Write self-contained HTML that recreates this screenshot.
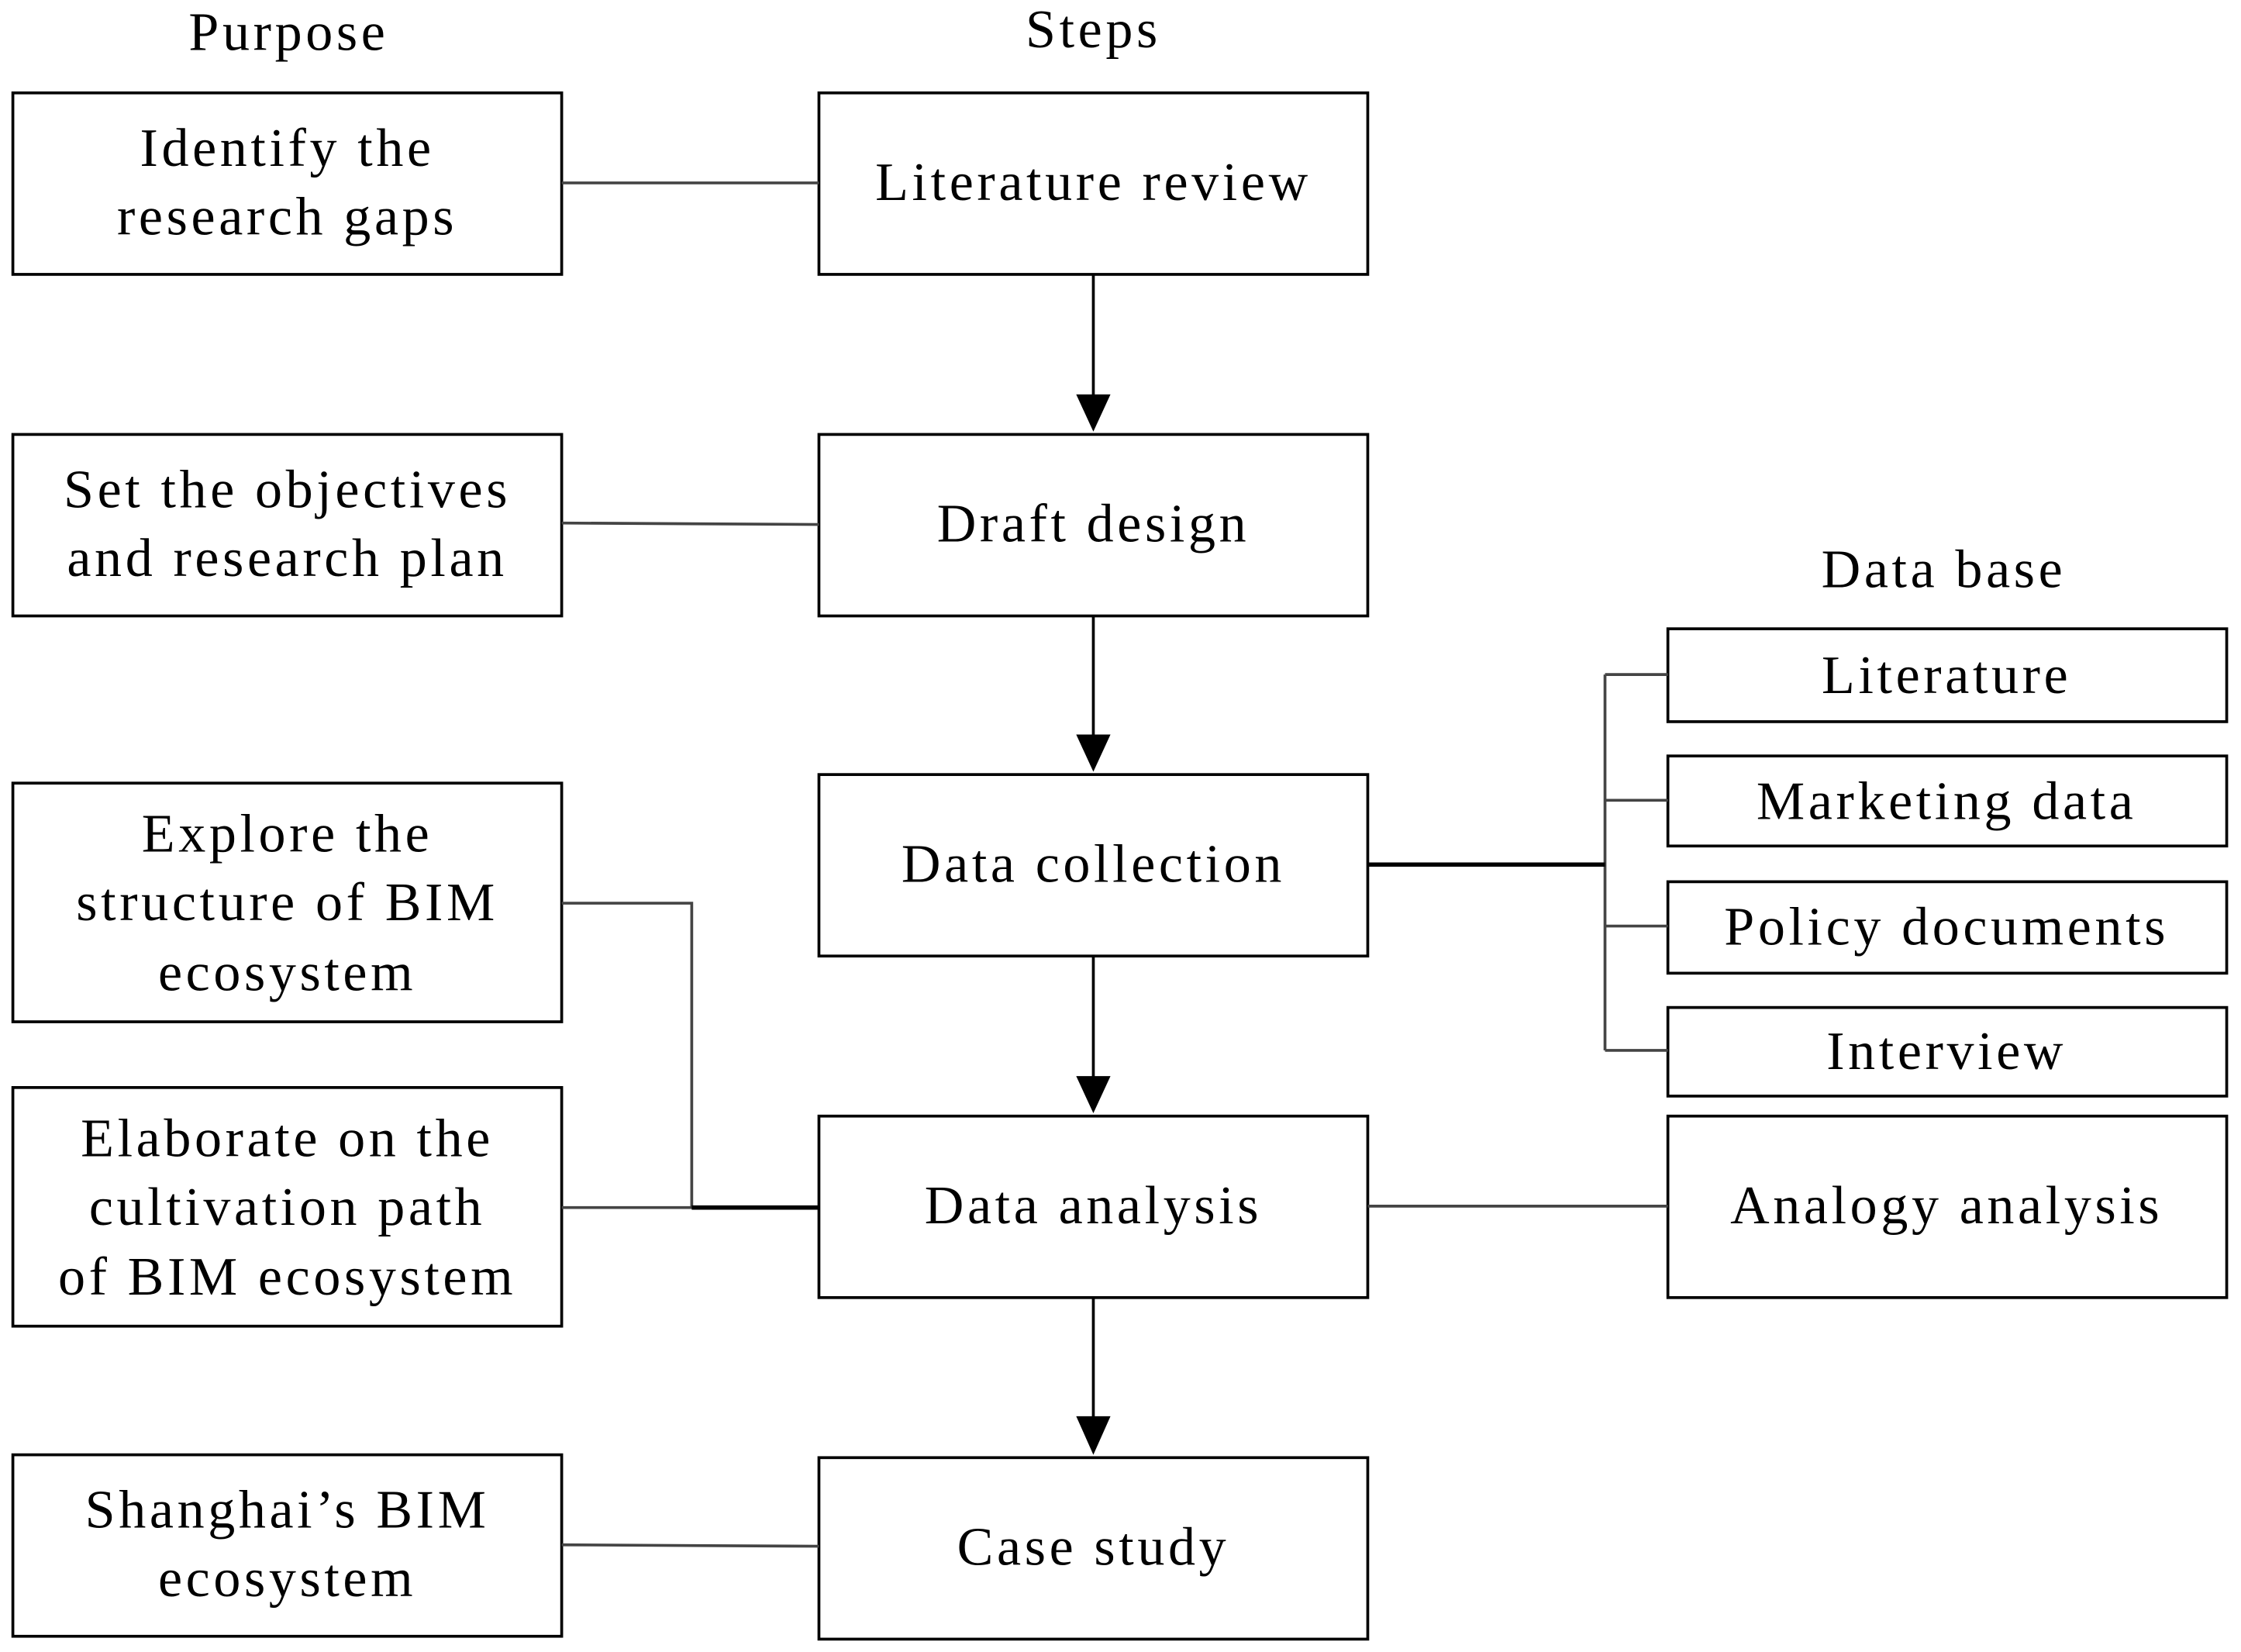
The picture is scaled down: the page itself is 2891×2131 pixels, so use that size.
<!DOCTYPE html>
<html><head><meta charset="utf-8"><style>html,body{margin:0;padding:0;background:#fff}svg{display:block}</style></head>
<body>
<svg width="2891" height="2131" viewBox="0 0 1568 1156" preserveAspectRatio="none" xmlns="http://www.w3.org/2000/svg" font-family="Liberation Serif, serif" font-size="38" letter-spacing="2.5" fill="#000">
<g fill="none" stroke="#000" stroke-width="2">
<rect x="9" y="65" width="384" height="127"/>
<rect x="9" y="304" width="384" height="127"/>
<rect x="9" y="548" width="384" height="167"/>
<rect x="9" y="761" width="384" height="167"/>
<rect x="9" y="1018" width="384" height="127"/>
<rect x="573" y="65" width="384" height="127"/>
<rect x="573" y="304" width="384" height="127"/>
<rect x="573" y="542" width="384" height="127"/>
<rect x="573" y="781" width="384" height="127"/>
<rect x="573" y="1020" width="384" height="127"/>
<rect x="1167" y="440" width="391" height="65"/>
<rect x="1167" y="529" width="391" height="63"/>
<rect x="1167" y="617" width="391" height="64"/>
<rect x="1167" y="705" width="391" height="62"/>
<rect x="1167" y="781" width="391" height="127"/>
</g>
<g fill="none" stroke="#444" stroke-width="2">
<line x1="393" y1="128" x2="573" y2="128"/>
<line x1="393" y1="366" x2="573" y2="367"/>
<polyline points="393,632 484,632 484,845"/>
<line x1="393" y1="845" x2="573" y2="845"/>
<line x1="957" y1="844" x2="1167" y2="844"/>
<line x1="393" y1="1081" x2="573" y2="1082"/>
<line x1="1123" y1="472" x2="1123" y2="735"/>
<line x1="1123" y1="472" x2="1167" y2="472"/>
<line x1="1123" y1="560" x2="1167" y2="560"/>
<line x1="1123" y1="648" x2="1167" y2="648"/>
<line x1="1123" y1="735" x2="1167" y2="735"/>
</g>
<g stroke="#000" stroke-width="3">
<line x1="484" y1="845" x2="573" y2="845"/>
<line x1="957" y1="605" x2="1123" y2="605"/>
</g>
<g stroke="#000" stroke-width="2">
<line x1="765" y1="192" x2="765" y2="280"/>
<line x1="765" y1="431" x2="765" y2="518"/>
<line x1="765" y1="669" x2="765" y2="757"/>
<line x1="765" y1="908" x2="765" y2="995"/>
</g>
<g>
<polygon points="753,276 777,276 765,302"/>
<polygon points="753,514 777,514 765,540"/>
<polygon points="753,753 777,753 765,779"/>
<polygon points="753,991 777,991 765,1018"/>
</g>
<g text-anchor="middle">
<text x="202" y="35">Purpose</text>
<text x="765" y="33">Steps</text>
<text x="1360" y="411">Data base</text>
<text x="201" y="116">Identify the</text>
<text x="201" y="164">research gaps</text>
<text x="201" y="355">Set the objectives</text>
<text x="201" y="403">and research plan</text>
<text x="201" y="596">Explore the</text>
<text x="201" y="644">structure of BIM</text>
<text x="201" y="693">ecosystem</text>
<text x="201" y="809">Elaborate on the</text>
<text x="201" y="857">cultivation path</text>
<text x="201" y="906">of BIM ecosystem</text>
<text x="201" y="1069">Shanghai’s BIM</text>
<text x="201" y="1117">ecosystem</text>
<text x="765" y="140">Literature review</text>
<text x="765" y="379">Draft design</text>
<text x="765" y="617">Data collection</text>
<text x="765" y="856">Data analysis</text>
<text x="765" y="1095">Case study</text>
<text x="1362" y="485">Literature</text>
<text x="1362" y="573">Marketing data</text>
<text x="1362" y="661">Policy documents</text>
<text x="1362" y="748">Interview</text>
<text x="1362" y="856">Analogy analysis</text>
</g>
</svg>
</body></html>
